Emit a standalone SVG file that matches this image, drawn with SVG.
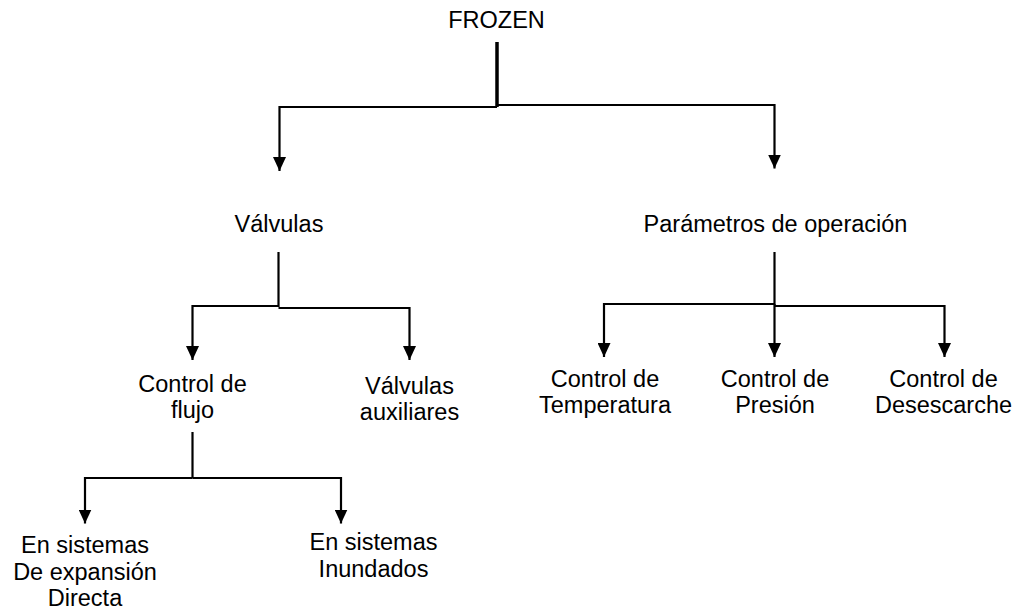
<svg xmlns="http://www.w3.org/2000/svg" width="1019" height="611" viewBox="0 0 1019 611">
<style>
  text { font-family: "Liberation Sans", Arial, sans-serif; font-size: 23.5px; fill: #000; text-anchor: middle; }
  .c { fill: none; stroke: #000; stroke-width: 2.2; }
  .trunk { stroke-width: 3.5; }
</style>
<defs>
  <marker id="arr" viewBox="0 0 14 13" refX="14" refY="6.5" markerWidth="14" markerHeight="13" markerUnits="userSpaceOnUse" orient="auto">
    <path d="M0,0 L14,6.5 L0,13 z" fill="#000"/>
  </marker>
</defs>
<rect width="1019" height="611" fill="#fff"/>
<g id="connectors">
  <path class="c trunk" d="M497,42 V107"/>
  <path class="c" d="M497,107 H279.5 V171" marker-end="url(#arr)"/>
  <path class="c" d="M497,105 H774.5 V168.5" marker-end="url(#arr)"/>
  <path class="c" d="M278.5,252 V307"/>
  <path class="c" d="M278.5,306 H192.5 V360" marker-end="url(#arr)"/>
  <path class="c" d="M278.5,308 H409.5 V360" marker-end="url(#arr)"/>
  <path class="c" d="M774.5,252 V305"/>
  <path class="c" d="M774.5,304 H604 V357" marker-end="url(#arr)"/>
  <path class="c" d="M774.5,304 V357" marker-end="url(#arr)"/>
  <path class="c" d="M774.5,306 H944.5 V357" marker-end="url(#arr)"/>
  <path class="c" d="M192.5,432 V478"/>
  <path class="c" d="M192.5,478 H85 V523.5" marker-end="url(#arr)"/>
  <path class="c" d="M192.5,478 H341 V523.5" marker-end="url(#arr)"/>
</g>
<g id="frozen"><text x="496.5" y="28">FROZEN</text></g>
<g id="valvulas"><text x="279" y="232">Válvulas</text></g>
<g id="parametros"><text x="775.5" y="232">Parámetros de operación</text></g>
<g id="control-flujo"><text x="192.5" y="392">Control de</text><text x="192.5" y="418">flujo</text></g>
<g id="valvulas-auxiliares"><text x="409.5" y="394">Válvulas</text><text x="409.5" y="420">auxiliares</text></g>
<g id="control-temperatura"><text x="605" y="387">Control de</text><text x="605" y="413">Temperatura</text></g>
<g id="control-presion"><text x="775" y="387">Control de</text><text x="775" y="413">Presión</text></g>
<g id="control-desescarche"><text x="943.5" y="387">Control de</text><text x="943.5" y="413">Desescarche</text></g>
<g id="expansion-directa"><text x="85" y="553">En sistemas</text><text x="85" y="580">De expansión</text><text x="85" y="606">Directa</text></g>
<g id="inundados"><text x="373.5" y="550">En sistemas</text><text x="373.5" y="577">Inundados</text></g>
</svg>
